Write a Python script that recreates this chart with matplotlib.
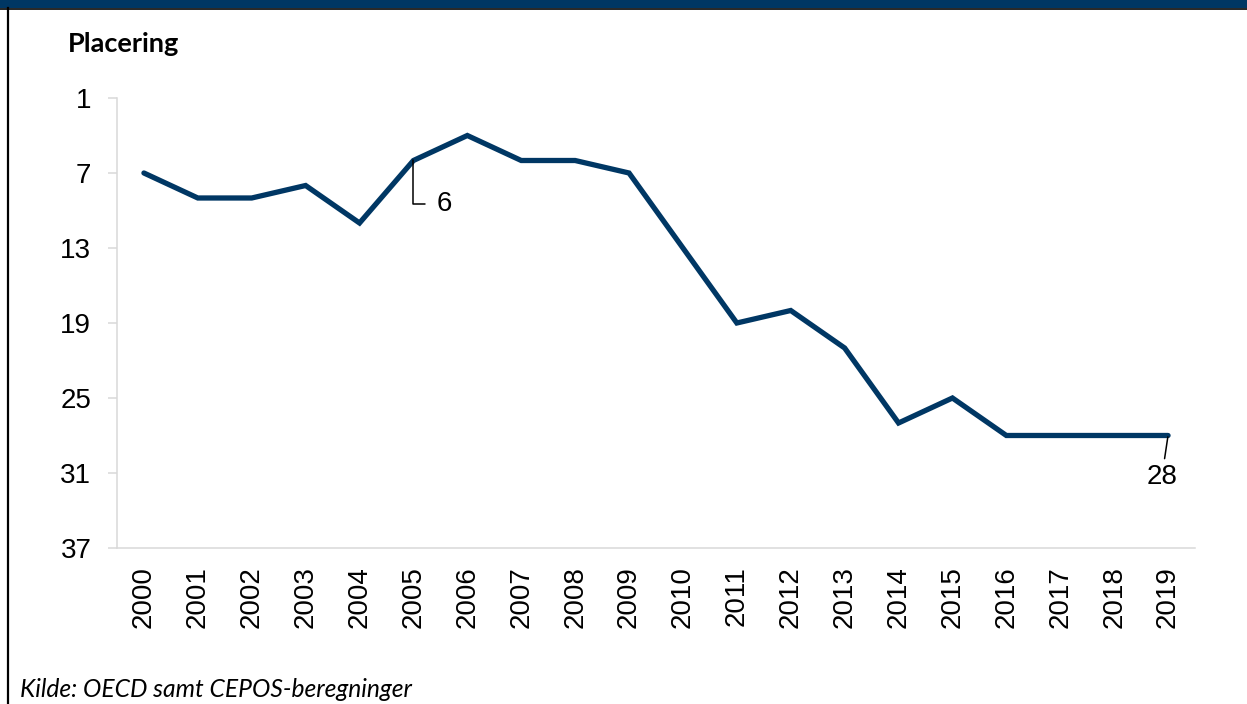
import matplotlib.pyplot as plt
from matplotlib.patches import Rectangle
from matplotlib.lines import Line2D

years = [str(y) for y in range(2000, 2020)]
placering = [7, 9, 9, 8, 11, 6, 4, 6, 6, 7, 13, 19, 18, 21, 27, 25, 28, 28, 28, 28]
y_ticks = [1, 7, 13, 19, 25, 31, 37]

navy = '#003764'
grey = '#d9d9d9'
tick_font = 'Liberation Sans'
fs = 20

fig = plt.figure(figsize=(12.47, 7.04), dpi=100)
ax = fig.add_axes([0.0938, 0.2216, 0.8645, 0.6392])

x = list(range(len(years)))
ax.plot(x, placering, color=navy, lw=3.8, solid_joinstyle='miter', solid_capstyle='round')

ax.set_xlim(-0.5, len(years) - 0.5)
ax.set_ylim(37, 1)
ax.set_yticks(y_ticks)
ax.set_yticklabels([str(t) for t in y_ticks], fontfamily=tick_font, fontsize=fs)
ax.set_xticks(x)
ax.set_xticklabels(years, rotation=90, fontfamily=tick_font, fontsize=fs)
ax.tick_params(axis='y', length=6.5, width=1.1, color=grey, pad=12)
ax.tick_params(axis='x', length=0, pad=13)

for s in ['top', 'right']:
    ax.spines[s].set_visible(False)
for s in ['left', 'bottom']:
    ax.spines[s].set_color(grey)
    ax.spines[s].set_linewidth(1.1)

# data labels
i05 = years.index('2005')
ax.annotate(str(placering[i05]), xy=(x[i05], placering[i05]), xytext=(17, -31),
            textcoords='offset points', ha='left', va='center',
            fontfamily=tick_font, fontsize=fs,
            arrowprops=dict(arrowstyle='-', color='black', lw=1.1, shrinkA=7, shrinkB=0,
                            connectionstyle='angle,angleA=0,angleB=90,rad=0'))
i19 = years.index('2019')
ax.annotate(str(placering[i19]), xy=(x[i19], placering[i19]), xytext=(-4.5, -30),
            textcoords='offset points', ha='center', va='center',
            fontfamily=tick_font, fontsize=fs,
            arrowprops=dict(arrowstyle='-', color='black', lw=1.1, shrinkA=2, shrinkB=1))

fig.text(68 / 1247, 1 - 44 / 704, 'Placering', fontfamily='Lato', fontweight='bold',
         fontsize=19.5, ha='left', va='center')
fig.text(20 / 1247, 1 - 697 / 704, 'Kilde: OECD samt CEPOS-beregninger', fontfamily='Lato',
         fontstyle='italic', fontsize=17.7, ha='left', va='baseline')

# frame pieces: title bar and left border
fig.patches.append(Rectangle((0, 1 - 8 / 704), 1, 8 / 704, transform=fig.transFigure,
                             facecolor=navy, edgecolor='none', zorder=0))
fig.lines.append(Line2D([0, 1], [1 - 8.5 / 704, 1 - 8.5 / 704], transform=fig.transFigure,
                        color='black', lw=1.2))
fig.lines.append(Line2D([7.5 / 1247, 7.5 / 1247], [0, 1 - 8 / 704], transform=fig.transFigure,
                        color='black', lw=1.6))

fig.savefig('out.png', dpi=100)
